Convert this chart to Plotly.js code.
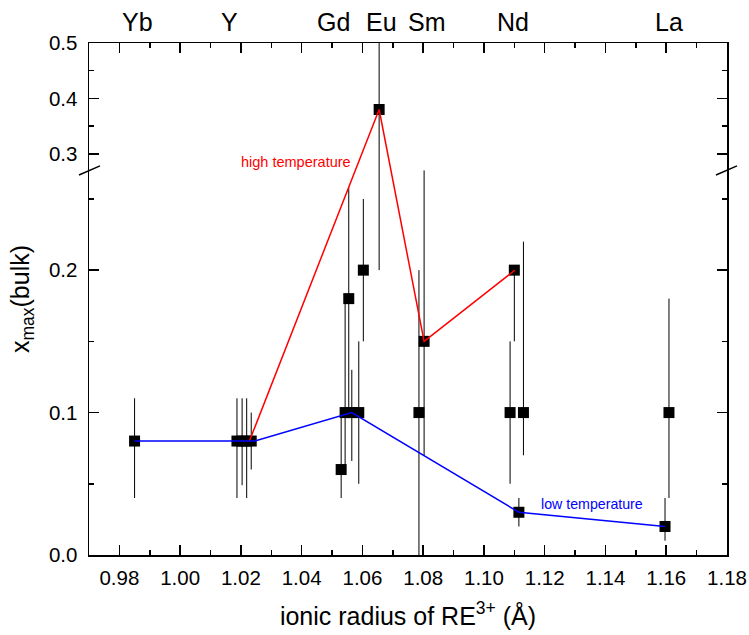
<!DOCTYPE html>
<html>
<head>
<meta charset="utf-8">
<script src="https://cdn.plot.ly/plotly-3.0.1.min.js"></script>
<style>html,body{margin:0;padding:0;background:#fff;}#chart{width:749px;height:635px;}</style>
</head>
<body>
<div id="chart"></div>
<script>
// ---- data (real values) ----
const radius   = [0.985, 1.0187, 1.0204, 1.0219, 1.0234, 1.0530, 1.0543, 1.0555, 1.0565, 1.0588, 1.0603, 1.0655, 1.0786, 1.0803, 1.1086, 1.1100, 1.1115, 1.1130, 1.1596, 1.1609];
const xmax     = [0.08,  0.08,   0.08,   0.08,   0.08,   0.06,   0.10,   0.18,   0.10,   0.10,   0.20,   0.38,   0.10,   0.15,   0.10,   0.20,   0.03,   0.10,   0.02,   0.10];
const errMinus = [0.04,  0.04,   0.031,  0.04,   0.02,   0.02,   0.04,   0.08,   0.034,  0.05,   0.05,   0.18,   0.10,   0.08,   0.05,   0.05,   0.01,   0.03,   0.01,   0.06];
const errPlus  = [0.03,  0.03,   0.03,   0.03,   0.02,   0.04,   0.077,  0.078,  0.03,   0.05,   0.05,   0.12,   0.10,   0.12,   0.05,   0.00,   0.01,   0.12,   0.02,   0.08];

const highT_x = [1.0228, 1.0655, 1.0803, 1.1102];
const highT_y = [0.08,   0.38,   0.15,   0.20];
const lowT_x  = [0.985, 1.0246, 1.0565, 1.1115, 1.1596];
const lowT_y  = [0.08,  0.08,   0.10,   0.03,   0.02];

const elements   = ['Yb', 'Y', 'Gd', 'Eu', 'Sm', 'Nd', 'La'];
const elementPos = [0.9858, 1.0164, 1.0506, 1.0664, 1.0813, 1.1096, 1.1609];

const yMajor = [0.0, 0.1, 0.2, 0.3, 0.4, 0.5];
const yMajorText = ['0.0', '0.1', '0.2', '0.3', '0.4', '0.5'];
const yMinor = [0.05, 0.15, 0.25, 0.35, 0.45];

// ---- broken y scale: linear below BREAK, compressed above ----
const BREAK = 0.27, K = 0.389;
function brk(v) { return v <= BREAK ? v : BREAK + (v - BREAK) * K; }

const yT = xmax.map(brk);
const plusT = xmax.map((v, i) => brk(v + errPlus[i]) - brk(v));
const minusT = xmax.map((v, i) => brk(v) - brk(v - errMinus[i]));

const FONT = 'Liberation Sans, Arial, sans-serif';

const traces = [
  {
    x: radius, y: yT, type: 'scatter', mode: 'markers',
    marker: {symbol: 'square', size: 11, color: '#000'},
    error_y: {type: 'data', symmetric: false, array: plusT, arrayminus: minusT, color: '#000', thickness: 1, width: 0},
    showlegend: false, hoverinfo: 'skip'
  },
  {
    x: highT_x, y: highT_y.map(brk), type: 'scatter', mode: 'lines',
    line: {color: '#ff0000', width: 1.5}, showlegend: false, hoverinfo: 'skip'
  },
  {
    x: lowT_x, y: lowT_y.map(brk), type: 'scatter', mode: 'lines',
    line: {color: '#0000ff', width: 1.5}, showlegend: false, hoverinfo: 'skip'
  }
];

const annotations = elements.map((e, i) => ({
  text: e, x: elementPos[i], xref: 'x', y: 1, yref: 'paper',
  yanchor: 'bottom', xanchor: 'center', yshift: 5, showarrow: false,
  font: {family: FONT, size: 25, color: '#000'}
}));
annotations.push({
  text: 'high temperature', x: 1.0381, xref: 'x', y: brk(0.286), yref: 'y',
  showarrow: false, font: {family: FONT, size: 14.5, color: '#ff0000'}
});
annotations.push({
  text: 'low temperature', x: 1.1356, xref: 'x', y: 0.0358, yref: 'y',
  showarrow: false, font: {family: FONT, size: 14.2, color: '#0000ff'}
});

const dy = 4.5 / 1423;
const shapes = [
  {type: 'line', xref: 'paper', yref: 'y', x0: -10/638, x1: 11/638, y0: brk(BREAK) - dy, y1: brk(BREAK) + dy, line: {color: '#000', width: 1.5}},
  {type: 'line', xref: 'paper', yref: 'y', x0: 1 - 11/638, x1: 1 + 10/638, y0: brk(BREAK) - dy, y1: brk(BREAK) + dy, line: {color: '#000', width: 1.5}}
];

const layout = {
  width: 749, height: 635,
  margin: {l: 89, r: 22, t: 43, b: 80},
  paper_bgcolor: '#fff', plot_bgcolor: '#fff',
  font: {family: FONT, size: 20, color: '#000'},
  xaxis: {
    range: [0.97, 1.18], tickmode: 'linear', tick0: 0.98, dtick: 0.02, tickformat: '.2f',
    ticks: 'inside', ticklen: 10, tickwidth: 1.5, tickcolor: '#000',
    minor: {dtick: 0.01, tick0: 0.97, ticks: 'inside', ticklen: 5, tickwidth: 1.5, tickcolor: '#000'},
    showline: true, linewidth: 1.5, linecolor: '#000', mirror: 'allticks',
    showgrid: false, zeroline: false,
    ticklabelstandoff: 4,
    tickfont: {family: FONT, size: 20.5, color: '#000'},
    title: {text: 'ionic radius of RE<sup>3+</sup> (Å)', font: {family: FONT, size: 25, color: '#000'}, standoff: 19}
  },
  yaxis: {
    range: [0, brk(0.5)], tickmode: 'array', tickvals: yMajor.map(brk), ticktext: yMajorText,
    ticks: 'inside', ticklen: 10, tickwidth: 1.5, tickcolor: '#000',
    minor: {tickmode: 'array', tickvals: yMinor.map(brk), ticks: 'inside', ticklen: 5, tickwidth: 1.5, tickcolor: '#000'},
    showline: true, linewidth: 1.5, linecolor: '#000', mirror: 'allticks',
    showgrid: false, zeroline: false,
    ticklabelstandoff: 6,
    tickfont: {family: FONT, size: 20.5, color: '#000'},
    title: {text: 'x<sub>max</sub>(bulk)', font: {family: FONT, size: 25, color: '#000'}, standoff: 12}
  },
  annotations: annotations,
  shapes: shapes
};

Plotly.newPlot('chart', traces, layout, {displayModeBar: false, staticPlot: true});
</script>
</body>
</html>
